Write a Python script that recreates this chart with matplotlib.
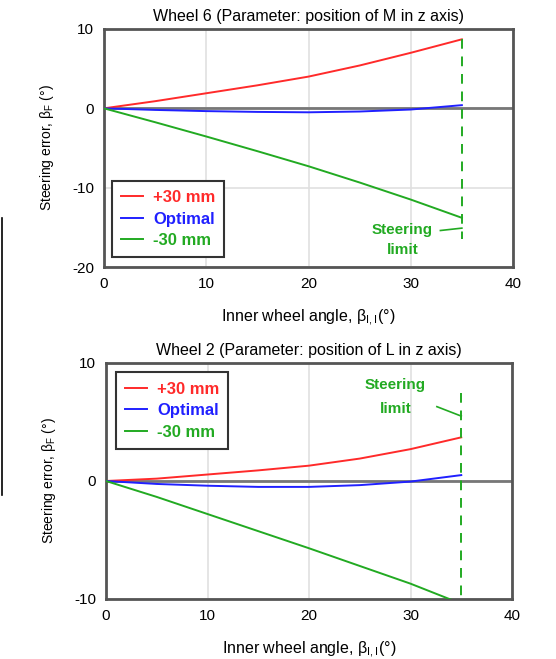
import matplotlib
matplotlib.use("Agg")
import matplotlib.pyplot as plt
from matplotlib.lines import Line2D

plt.rcParams['font.family'] = ['Liberation Sans', 'DejaVu Sans']
plt.rcParams['axes.unicode_minus'] = False
plt.rcParams['mathtext.default'] = 'regular'

# Data (inner wheel angle in degrees)
angle = [0, 5, 10, 15, 20, 25, 30, 35]

w6_plus30 = [0, 0.9, 1.9, 2.9, 4.0, 5.4, 7.0, 8.7]
w6_optimal = [0, -0.2, -0.35, -0.45, -0.5, -0.4, -0.15, 0.4]
w6_minus30 = [0, -1.75, -3.55, -5.4, -7.3, -9.35, -11.5, -13.8]

w2_plus30 = [0, 0.2, 0.55, 0.9, 1.3, 1.9, 2.7, 3.7]
w2_optimal = [0, -0.25, -0.4, -0.5, -0.5, -0.35, -0.05, 0.5]
w2_minus30 = [0, -1.35, -2.8, -4.25, -5.7, -7.2, -8.7, -10.4]

steer_limit = 35
series_labels = ['+30 mm', 'Optimal', '-30 mm']
colors = ['#ff2a2a', '#2020ff', '#22aa22']

fig = plt.figure(figsize=(5.56, 6.59), dpi=100)

def setup(ax, title, ylim, yticks):
    ax.set_xlim(0, 40)
    ax.set_ylim(*ylim)
    ax.set_xticks([0, 10, 20, 30, 40])
    ax.set_yticks(yticks)
    ax.grid(True, color='#e0e0e0', linewidth=1.2)
    ax.set_axisbelow(True)
    for s in ax.spines.values():
        s.set_color('#555555')
        s.set_linewidth(2)
    ax.tick_params(length=0, labelsize=11, pad=7)
    ax.axhline(0, color='#777777', linewidth=2, zorder=1)
    ax.set_title(title, fontsize=11.5, pad=6)
    ax.set_xlabel(r'Inner wheel angle, $\beta_{I,I}$(°)', fontsize=11.5, labelpad=12)
    ax.set_ylabel(r'Steering error, $\beta_F$ (°)', fontsize=10, labelpad=12)

def style_legend(leg):
    leg.get_frame().set_edgecolor('#333333')
    leg.get_frame().set_linewidth(1.5)
    for t, c in zip(leg.get_texts(), colors):
        t.set_color(c)
        t.set_fontweight('bold')

legend_kw = dict(fontsize=12, frameon=True, fancybox=False, handlelength=1.3,
                 handletextpad=0.6, labelspacing=0.4, borderpad=0.55, framealpha=1,
                 borderaxespad=0)

# Top axes
ax1 = fig.add_axes([104/556, 1-267/659, 409/556, 238/659])
setup(ax1, 'Wheel 6 (Parameter: position of M in z axis)', (-20, 10), [-20, -10, 0, 10])
for y, c, l in zip([w6_plus30, w6_optimal, w6_minus30], colors, series_labels):
    ax1.plot(angle, y, color=c, linewidth=1.4, label=l, zorder=3)
ax1.plot([steer_limit, steer_limit], [8.8, -16.5], color='#22aa22', linestyle=(0, (5, 4)), linewidth=1.4, zorder=3)
ax1.text(29.2, -15.3, 'Steering', color='#22aa22', ha='center', va='center', fontsize=11, fontweight='bold')
ax1.text(29.2, -17.9, 'limit', color='#22aa22', ha='center', va='center', fontsize=11, fontweight='bold')
ax1.plot([32.9, 35], [-15.4, -15.1], color='#22aa22', linewidth=1.2)
leg1 = ax1.legend(loc='lower left', bbox_to_anchor=(0.02, 0.04), **legend_kw)
style_legend(leg1)

# Bottom axes
ax2 = fig.add_axes([106/556, 1-599/659, 406/556, 236/659])
setup(ax2, 'Wheel 2 (Parameter: position of L in z axis)', (-10, 10), [-10, 0, 10])
for y, c, l in zip([w2_plus30, w2_optimal, w2_minus30], colors, series_labels):
    ax2.plot(angle, y, color=c, linewidth=1.4, label=l, zorder=3)
ax2.plot([steer_limit, steer_limit], [7.5, -10], color='#22aa22', linestyle=(0, (5, 4)), linewidth=1.4, zorder=3)
ax2.text(28.5, 8.1, 'Steering', color='#22aa22', ha='center', va='center', fontsize=11, fontweight='bold')
ax2.text(28.5, 6.1, 'limit', color='#22aa22', ha='center', va='center', fontsize=11, fontweight='bold')
ax2.plot([32.6, 35], [6.3, 5.5], color='#22aa22', linewidth=1.2)
leg2 = ax2.legend(loc='upper left', bbox_to_anchor=(0.025, 0.96), **legend_kw)
style_legend(leg2)

# stray vertical line at the left edge
fig.add_artist(Line2D([2/556, 2/556], [1-218/659, 1-495/659], color='black', linewidth=1.2))

fig.savefig('out.png', dpi=100)
